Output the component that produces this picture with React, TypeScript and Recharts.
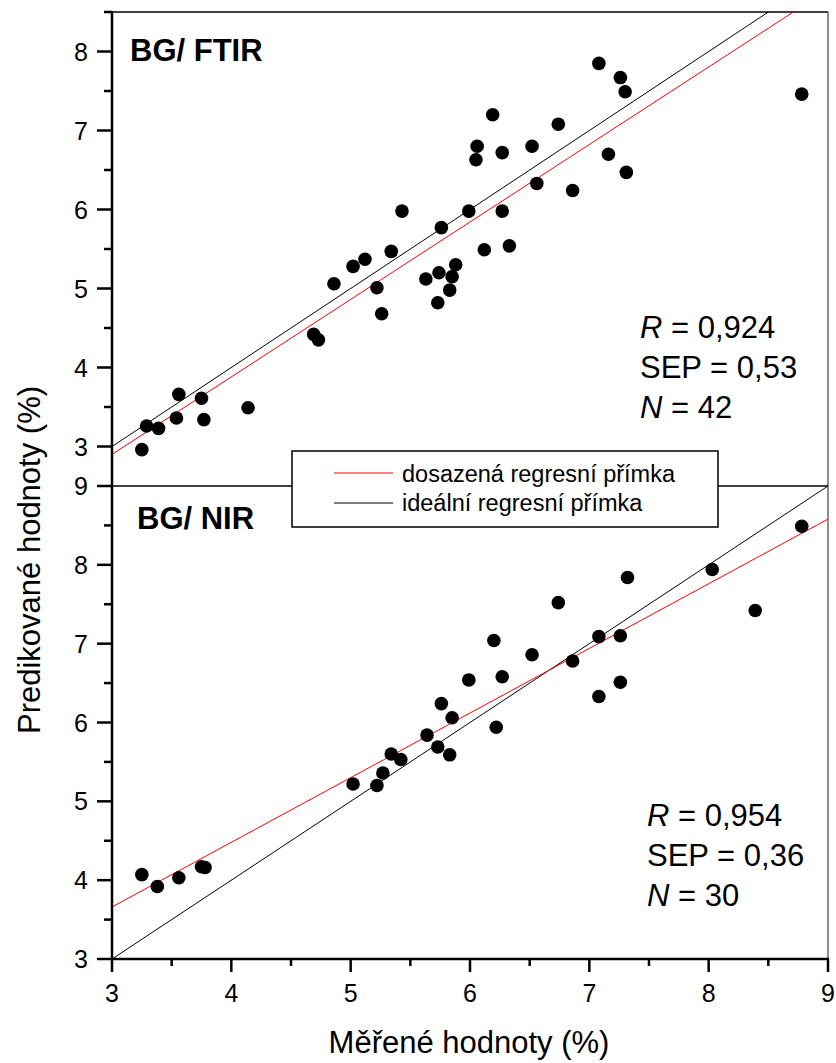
import { ScatterChart, Scatter, XAxis, YAxis, ReferenceLine } from "recharts";

// BG / FTIR calibration: measured vs predicted (%)
const ftirMeasured = [
  3.25, 3.29, 3.39, 3.56, 3.54, 3.75, 3.77, 4.14, 4.69, 4.73, 4.86, 5.02, 5.12, 5.22,
  5.26, 5.34, 5.43, 7.08, 7.26, 7.3, 8.78, 6.19, 6.74, 6.06, 6.05, 6.27, 6.52, 7.16,
  7.31, 6.56, 6.86, 5.99, 6.27, 5.76, 6.33, 6.12, 5.88, 5.74, 5.63, 5.85, 5.83, 5.73,
];
const ftirPredicted = [
  2.96, 3.26, 3.23, 3.66, 3.36, 3.61, 3.34, 3.49, 4.42, 4.35, 5.06, 5.28, 5.37, 5.01,
  4.68, 5.47, 5.98, 7.85, 7.67, 7.49, 7.46, 7.2, 7.08, 6.8, 6.63, 6.72, 6.8, 6.7,
  6.47, 6.33, 6.24, 5.98, 5.98, 5.77, 5.54, 5.49, 5.3, 5.2, 5.12, 5.15, 4.98, 4.82,
];

// BG / NIR calibration
const nirMeasured = [
  3.25, 3.38, 3.56, 3.75, 3.78, 5.02, 5.22, 5.27, 5.34, 5.42, 5.64, 5.73, 5.83, 5.76,
  5.85, 5.99, 6.22, 6.2, 6.27, 6.52, 6.74, 6.86, 7.08, 7.08, 7.26, 7.26, 7.32, 8.03,
  8.39, 8.78,
];
const nirPredicted = [
  4.07, 3.92, 4.03, 4.17, 4.16, 5.22, 5.2, 5.36, 5.6, 5.53, 5.84, 5.69, 5.59, 6.24,
  6.06, 6.54, 5.94, 7.04, 6.58, 6.86, 7.52, 6.78, 7.09, 6.33, 7.1, 6.51, 7.84, 7.94,
  7.42, 8.49,
];

// regression lines (end points where they leave the frame)
const ftirFitX = [3, 8.71];
const ftirFitY = [2.9, 8.5];
const ftirIdealX = [3, 8.5];
const ftirIdealY = [3, 8.5];
const nirFitX = [3, 9];
const nirFitY = [3.66, 8.58];
const nirIdealX = [3, 9];
const nirIdealY = [3, 9];

const xTicks = [3, 3.5, 4, 4.5, 5, 5.5, 6, 6.5, 7, 7.5, 8, 8.5, 9];
const ftirYTicks = [3, 3.5, 4, 4.5, 5, 5.5, 6, 6.5, 7, 7.5, 8, 8.5];
const nirYTicks = [3, 3.5, 4, 4.5, 5, 5.5, 6, 6.5, 7, 7.5, 8, 8.5, 9];

const FONT = "'Liberation Sans', Arial, sans-serif";

// plot frame (px)
const LEFT = 112;
const RIGHT = 828;
const TOP1 = 12;
const MID = 486;
const BOT = 959;

const toPoints = (xs: number[], ys: number[]) => xs.map((x, i) => ({ x, y: ys[i] }));
const isMajor = (v: number) => Number.isInteger(v);

function YTick({ x, y, payload }: any) {
  if (!isMajor(payload.value)) return <g />;
  return (
    <text x={x - 24} y={y + 9} textAnchor="end" fontSize={25} fontFamily={FONT} fill="#000">
      {payload.value}
    </text>
  );
}

function XTick({ x, y, payload }: any) {
  if (!isMajor(payload.value)) return <g />;
  return (
    <text x={x} y={y + 43} textAnchor="middle" fontSize={25} fontFamily={FONT} fill="#000">
      {payload.value}
    </text>
  );
}

const dot = (p: any) => <circle cx={p.cx} cy={p.cy} r={6.8} fill="#000" />;
const noDot = () => <g />;

function Panel({ points, fit, ideal, yDomain, yTicks, top, bottom, withXAxis }: any) {
  return (
    <div style={{ position: "absolute", left: 0, top: 0 }}>
      <ScatterChart width={836} height={1063} margin={{ top, right: 836 - RIGHT, bottom, left: 0 }}>
        {withXAxis ? (
          <XAxis
            type="number"
            dataKey="x"
            domain={[3, 9]}
            ticks={xTicks}
            interval={0}
            tick={<XTick />}
            tickSize={0}
            tickMargin={0}
            tickLine={false}
            axisLine={false}
            height={1063 - BOT}
          />
        ) : (
          <XAxis type="number" dataKey="x" domain={[3, 9]} hide />
        )}
        <YAxis
          type="number"
          dataKey="y"
          domain={yDomain}
          ticks={yTicks}
          interval={0}
          tick={<YTick />}
          tickSize={0}
          tickMargin={0}
          tickLine={false}
          axisLine={false}
          width={LEFT}
        />
        {/* frame: top and right edges */}
        <ReferenceLine y={yDomain[1]} stroke="#000" strokeWidth={1.5} />
        <ReferenceLine x={9} stroke="#444" strokeWidth={1.2} />
        <Scatter
          data={ideal}
          line={{ stroke: "#000", strokeWidth: 1 }}
          shape={noDot}
          isAnimationActive={false}
        />
        <Scatter
          data={fit}
          line={{ stroke: "#ff0000", strokeWidth: 1 }}
          shape={noDot}
          isAnimationActive={false}
        />
        <Scatter data={points} shape={dot} isAnimationActive={false} />
      </ScatterChart>
    </div>
  );
}

function Stats({ x, y, r, sep, n }: any) {
  const t = { fontSize: 31, fontFamily: FONT, fill: "#000" };
  return (
    <g>
      <text x={x} y={y} {...t}>
        <tspan fontStyle="italic">R</tspan> = {r}
      </text>
      <text x={x} y={y + 40} {...t}>
        SEP = {sep}
      </text>
      <text x={x} y={y + 80} {...t}>
        <tspan fontStyle="italic">N</tspan> = {n}
      </text>
    </g>
  );
}

// axis lines and tick marks, same geometry as the charts' plot areas
function AxisMarks() {
  const xPx = (v: number) => LEFT + ((v - 3) * (RIGHT - LEFT)) / 6;
  const yTop = (v: number) => TOP1 + ((8.5 - v) * (MID - TOP1)) / 6;
  const yBot = (v: number) => MID + ((9 - v) * (BOT - MID)) / 6;
  const k = { stroke: "#000", strokeWidth: 2.5 };
  return (
    <g>
      {ftirYTicks.map((v) => (
        <line key={`t${v}`} x1={LEFT - (isMajor(v) ? 15 : 8)} x2={LEFT} y1={yTop(v)} y2={yTop(v)} {...k} />
      ))}
      {nirYTicks.map((v) => (
        <line key={`b${v}`} x1={LEFT - (isMajor(v) ? 15 : 8)} x2={LEFT} y1={yBot(v)} y2={yBot(v)} {...k} />
      ))}
      {xTicks.map((v) => (
        <line key={`x${v}`} x1={xPx(v)} x2={xPx(v)} y1={BOT} y2={BOT + (isMajor(v) ? 13 : 7)} {...k} />
      ))}
      <line x1={LEFT} x2={LEFT} y1={TOP1 - 1} y2={BOT + 1} {...k} />
      <line x1={LEFT - 1} x2={RIGHT + 1} y1={BOT} y2={BOT} stroke="#000" strokeWidth={2.7} />
    </g>
  );
}

export default function App() {
  return (
    <div style={{ position: "absolute", left: 0, top: 0, width: 836, height: 1063, background: "#fff" }}>
      <Panel
        points={toPoints(ftirMeasured, ftirPredicted)}
        fit={toPoints(ftirFitX, ftirFitY)}
        ideal={toPoints(ftirIdealX, ftirIdealY)}
        yDomain={[2.5, 8.5]}
        yTicks={ftirYTicks}
        top={TOP1}
        bottom={1063 - MID}
        withXAxis={false}
      />
      <Panel
        points={toPoints(nirMeasured, nirPredicted)}
        fit={toPoints(nirFitX, nirFitY)}
        ideal={toPoints(nirIdealX, nirIdealY)}
        yDomain={[3, 9]}
        yTicks={nirYTicks}
        top={MID}
        bottom={0}
        withXAxis
      />
      <svg
        width={836}
        height={1063}
        style={{ position: "absolute", left: 0, top: 0, pointerEvents: "none" }}
      >
        <AxisMarks />
        <text x={130} y={61} fontSize={31} fontWeight="bold" fontFamily={FONT}>
          BG/ FTIR
        </text>
        <text x={137} y={529} fontSize={31} fontWeight="bold" fontFamily={FONT}>
          BG/ NIR
        </text>
        <Stats x={640} y={338} r="0,924" sep="0,53" n="42" />
        <Stats x={647} y={826} r="0,954" sep="0,36" n="30" />

        <rect x={292} y={451} width={426} height={76} fill="#fff" stroke="#000" strokeWidth={1.5} />
        <line x1={334} x2={393} y1={473} y2={473} stroke="#ff0000" strokeWidth={1} />
        <text x={402} y={482} fontSize={23.5} fontFamily={FONT}>
          dosazená regresní přímka
        </text>
        <line x1={334} x2={393} y1={503} y2={503} stroke="#000" strokeWidth={1} />
        <text x={402} y={511} fontSize={23.5} fontFamily={FONT}>
          ideální regresní přímka
        </text>

        <text x={469} y={1053} fontSize={31} textAnchor="middle" fontFamily={FONT}>
          Měřené hodnoty (%)
        </text>
        <text
          transform="translate(40,560) rotate(-90)"
          fontSize={31}
          textAnchor="middle"
          fontFamily={FONT}
        >
          Predikované hodnoty (%)
        </text>
      </svg>
    </div>
  );
}
